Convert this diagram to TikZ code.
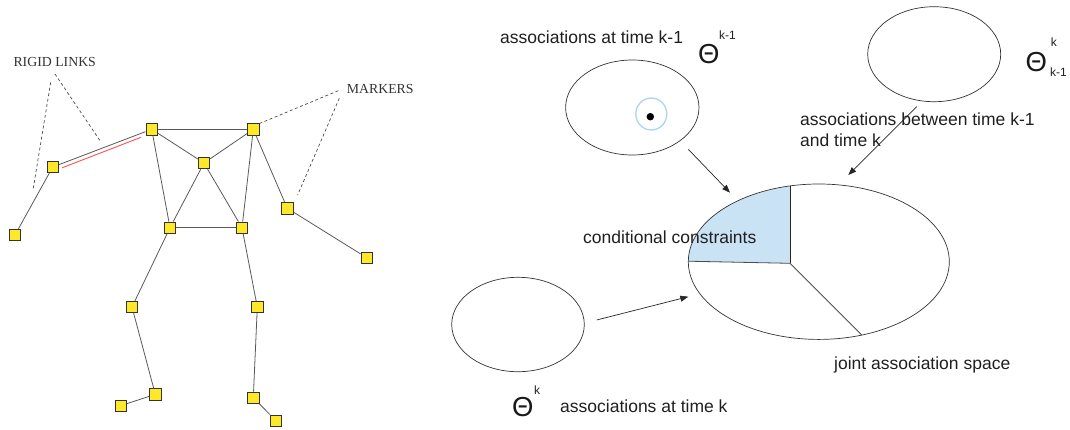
\documentclass[tikz,border=0pt]{standalone}
\usepackage{fontspec}
\setmainfont{Liberation Sans}
\newfontfamily\seriffont{Liberation Serif}
\usetikzlibrary{arrows.meta,shapes.geometric}

\definecolor{markeryellow}{RGB}{255,232,40}
\definecolor{sharedblue}{RGB}{201,227,245}
\definecolor{ringblue}{RGB}{172,212,240}
\definecolor{redlink}{RGB}{255,80,80}

\begin{document}
\begin{tikzpicture}[x=1pt,y=-1pt,
  marker/.style={draw=black!80,fill=markeryellow,minimum size=11.5pt,inner sep=0pt,line width=0.8pt},
  bone/.style={draw=black!65,line width=0.8pt},
  callout/.style={draw=black!70,dash pattern=on 3pt off 2.5pt,line width=0.7pt},
  lbl/.style={font=\fontsize{17.5}{21}\selectfont,text=black!88,inner sep=0pt,anchor=base west},
  theta/.style={font=\fontsize{27.5}{30}\selectfont,text=black!90,inner sep=0pt,anchor=base west},
  idx/.style={font=\fontsize{12}{14}\selectfont,text=black!88,inner sep=0pt,anchor=base west},
  seriflbl/.style={font=\seriffont\fontsize{13.8}{16}\selectfont,text=black!80,inner sep=0pt,anchor=base west},
  set/.style={draw=black!80,ellipse,line width=0.7pt,inner sep=0pt},
  flow/.style={-{Triangle[length=8pt,width=6pt]},line width=0.7pt,draw=black!85}
]
\useasboundingbox (0,0) rectangle (1070,429);

% ---------------- skeleton of markers ----------------
\node[marker] (lsh) at (151.7,129.3) {};
\node[marker] (rsh) at (253.3,129.3) {};
\node[marker] (chest) at (204,163) {};
\node[marker] (lhip) at (170,227.7) {};
\node[marker] (rhip) at (242,227.7) {};
\node[marker] (lelb) at (52.7,167) {};
\node[marker] (lhand) at (15,235) {};
\node[marker] (relb) at (287.3,208.3) {};
\node[marker] (rhand) at (366.7,257.7) {};
\node[marker] (lknee) at (132,307) {};
\node[marker] (rknee) at (257.3,307) {};
\node[marker] (lank) at (155.3,394.3) {};
\node[marker] (ltoe) at (120.7,405.7) {};
\node[marker] (rank) at (253.3,397.7) {};
\node[marker] (rtoe) at (276,420.7) {};

\draw[bone] (lsh) -- (rsh);
\draw[bone] (lsh) -- (chest);
\draw[bone] (rsh) -- (chest);
\draw[bone] (lsh) -- (lhip);
\draw[bone] (rsh) -- (rhip);
\draw[bone] (chest) -- (lhip);
\draw[bone] (chest) -- (rhip);
\draw[bone] (lhip) -- (rhip);
\draw[bone] (lsh) -- (lelb);
\draw[bone] (lelb) -- (lhand);
\draw[bone] (rsh) -- (relb);
\draw[bone] (relb) -- (rhand);
\draw[bone] (lhip) -- (lknee);
\draw[bone] (lknee) -- (lank);
\draw[bone] (lank) -- (ltoe);
\draw[bone] (rhip) -- (rknee);
\draw[bone] (rknee) -- (rank);
\draw[bone] (rank) -- (rtoe);

% rigid link highlighted in red beside the upper arm
\coordinate (rigidA) at (62.3,167.7);
\coordinate (rigidB) at (141,137.3);
\draw[redlink,line width=0.9pt] (rigidA) -- (rigidB);

% callout labels
\node[seriflbl] (rigidlbl) at (13.3,66.7) {RIGID LINKS};
\node[seriflbl] (markerlbl) at (346.7,93.3) {MARKERS};

\coordinate (rl1) at (50.7,82.3);
\coordinate (rl1e) at (33.3,188.3);
\coordinate (rl2) at (55,74);
\coordinate (rl2e) at (100.7,141.7);
\draw[callout] (rl1) -- (rl1e);
\draw[callout] (rl2) -- (rl2e);

\coordinate (mk1) at (338.3,90.7);
\coordinate (mk1e) at (260,123.3);
\coordinate (mk2) at (339.3,98.3);
\coordinate (mk2e) at (297.7,195);
\draw[callout] (mk1) -- (mk1e);
\draw[callout] (mk2) -- (mk2e);

% ---------------- association spaces ----------------
% joint space with the shaded sector of conditional constraints
\fill[sharedblue] (790,263.3) -- (688.3,261.7)
  arc[start angle=180,end angle=257.25,x radius=130.5,y radius=77.7] -- cycle;
\node[set,minimum width=261pt,minimum height=155.4pt] (joint) at (818.8,261.7) {};
\coordinate (hub) at (790,263.3);
\coordinate (rimtop) at (790,185.9);
\coordinate (rimleft) at (688.3,261.2);
\coordinate (rimlow) at (861.7,335);
\draw[black!85,line width=0.8pt] (hub) -- (rimtop);
\draw[black!70,line width=0.8pt] (hub) -- (rimleft);
\draw[black!70,line width=0.8pt] (hub) -- (rimlow);

% association sets at time k-1, between k-1 and k, and at time k
\node[set,minimum width=133.4pt,minimum height=95pt] (prev) at (632.3,107.5) {};
\node[draw=ringblue,ellipse,line width=1.3pt,minimum width=31pt,minimum height=32pt,inner sep=0pt] (ring) at (651.3,114) {};
\node[fill=black,circle,minimum size=7.5pt,inner sep=0pt] (sample) at (650.3,116.7) {};
\node[set,minimum width=133pt,minimum height=95pt] (between) at (934.2,54.2) {};
\node[set,minimum width=132.6pt,minimum height=94.4pt] (curr) at (518,324.5) {};

% arrows into the joint space
\coordinate (f1s) at (688.3,149.3);
\coordinate (f1e) at (730,192.7);
\coordinate (f2s) at (916.7,106.7);
\coordinate (f2e) at (848.3,175);
\coordinate (f3s) at (596.7,320);
\coordinate (f3e) at (688.3,296.7);
\draw[flow] (f1s) -- (f1e);
\draw[flow] (f2s) -- (f2e);
\draw[flow] (f3s) -- (f3e);

% text labels
\node[lbl] (tprev) at (500,43.3) {associations at time k-1};
\node[theta] (thprev) at (698,63) {Θ};
\node[idx] (thprevsup) at (719,39.5) {k-1};

\node[theta] (thbet) at (1025.5,71.5) {Θ};
\node[idx] (thbetsup) at (1050.7,46.7) {k};
\node[idx] (thbetsub) at (1050,76.7) {k-1};
\node[lbl] (tbet1) at (800,125.5) {associations between time k-1};
\node[lbl] (tbet2) at (800,146.5) {and time k};

\node[lbl] (tcond) at (583,243.3) {conditional constraints};
\node[lbl] (tjoint) at (834,369.5) {joint association space};

\node[theta] (thcurr) at (512,416) {Θ};
\node[idx] (thcurrsup) at (534,394) {k};
\node[lbl] (tcurr) at (560,412.3) {associations at time k};
\end{tikzpicture}
\end{document}
